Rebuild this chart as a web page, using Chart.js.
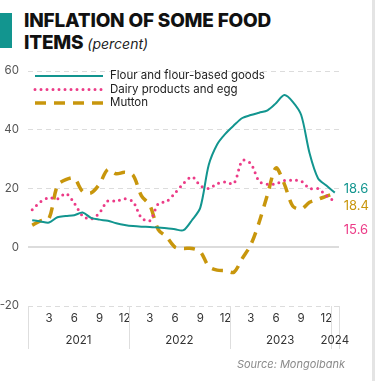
<!DOCTYPE html>
<html lang="en">
<head>
  <meta charset="UTF-8" />
  <title>Inflation of some food items</title>
  <script src="https://cdn.jsdelivr.net/npm/chart.js"></script>
  <style>
    html, body {
      margin: 0;
      padding: 0;
      background: #fff;
    }
    #wrap {
      position: relative;
      width: 375px;
      height: 381px;
      overflow: hidden;
      font-family: Inter, "Open Sans", sans-serif;
    }
    #wrap:after {
      content: '';
      position: absolute;
      right: 0; top: 0;
      width: 3px; height: 381px;
      background: #e4e4e4;
    }
    #bar {
      position: absolute;
      left: 0; top: 13px;
      width: 12px; height: 35px;
      background: #12958f;
    }
    #title {
      position: absolute;
      left: 24px; top: 10px;
      font-size: 19px;
      font-weight: 800;
      line-height: 22px;
      color: #111;
      letter-spacing: -0.2px;
    }
    #title i {
      font-size: 14px;
      font-weight: 400;
      letter-spacing: 0;
      color: #222;
    }
    #source {
      position: absolute;
      right: 30px; top: 357px;
      font-size: 11px;
      font-style: italic;
      color: #8a8a8a;
    }
    canvas { position: absolute; left: 0; top: 0; }
  </style>
</head>
<body>
<div id="wrap">
  <div id="bar"></div>
  <div id="title">INFLATION OF SOME FOOD<br>ITEMS <i>(percent)</i></div>
  <canvas id="chart" width="375" height="381"></canvas>
  <div id="source">Source: Mongolbank</div>
</div>

<script>
  // months Jan 2021 .. Jan 2024
  const months = ['2021-01','2021-02','2021-03','2021-04','2021-05','2021-06','2021-07','2021-08','2021-09','2021-10','2021-11','2021-12',
                  '2022-01','2022-02','2022-03','2022-04','2022-05','2022-06','2022-07','2022-08','2022-09','2022-10','2022-11','2022-12',
                  '2023-01','2023-02','2023-03','2023-04','2023-05','2023-06','2023-07','2023-08','2023-09','2023-10','2023-11','2023-12',
                  '2024-01'];
  const years = ['2021', '2022', '2023', '2024'];
  const yTicks = [-20, 0, 20, 40, 60];

  const seriesNames = ['Flour and flour-based goods', 'Dairy products and egg', 'Mutton'];
  const flour = [9.2, 8.8, 8.4, 10.2, 10.6, 10.9, 11.8, 10.0, 9.4, 9.0, 8.2, 7.6,
                 7.2, 7.0, 6.9, 6.7, 6.5, 6.1, 5.8, 9.2, 13.5, 28, 35, 38.7,
                 41.5, 44, 45, 45.8, 46.6, 49, 51.8, 49.5, 45, 32, 23.5, 21, 18.6];
  const dairy = [12.8, 15.5, 16.9, 16.5, 18.3, 15, 10.7, 9.6, 11.7, 15.8, 15.7, 16.5,
                 15.5, 10, 9, 14.8, 15.6, 18.5, 21.7, 24, 21, 20, 21.6, 22.2,
                 21.7, 29.5, 28.5, 22.5, 21.4, 21.6, 22.7, 22.8, 22.5, 20, 20, 17.5, 15.6];
  const mutton = [7.5, 9, 9.8, 21, 23, 23.5, 19, 18.5, 21.5, 26.5, 25, 25.5,
                  24.5, 17.5, 14.3, 6, 3.5, 0, -0.4, -0.4, -1.5, -6.5, -7.8, -8,
                  -8.5, -3.8, 0.8, 8.5, 18, 27, 21.5, 14, 13, 15.3, 16.3, 17.4, 18.4];

  const colors = ['#12958f', '#ec3b87', '#c8960c'];
  const font = 'Inter, "Open Sans", sans-serif';

  // legend, year row, separators and end labels
  const extras = {
    id: 'extras',
    afterDraw(chart) {
      const ctx = chart.ctx;
      const xs = chart.scales.x;
      const area = chart.chartArea;
      const half = (xs.getPixelForValue(1) - xs.getPixelForValue(0)) / 2;

      // year separators below the axis
      const bounds = [xs.left];
      for (let i = 12; i < months.length; i += 12) bounds.push(xs.getPixelForValue(i) - half);
      bounds.push(xs.right);
      ctx.save();
      ctx.strokeStyle = '#dedede';
      ctx.lineWidth = 1;
      bounds.forEach(b => {
        ctx.beginPath();
        ctx.moveTo(Math.round(b) + 0.5, area.bottom);
        ctx.lineTo(Math.round(b) + 0.5, area.bottom + 43);
        ctx.stroke();
      });

      // year labels
      ctx.fillStyle = '#333';
      ctx.font = '11.5px ' + font;
      ctx.textAlign = 'center';
      ctx.textBaseline = 'middle';
      years.forEach((y, k) => {
        ctx.fillText(y, (bounds[k] + bounds[k + 1]) / 2, area.bottom + 35);
      });

      // legend
      ctx.textAlign = 'left';
      ctx.fillStyle = '#222';
      chart.data.datasets.forEach((ds, k) => {
        const y = area.top + 5 + k * 13.5;
        ctx.beginPath();
        ctx.strokeStyle = ds.borderColor;
        ctx.lineWidth = ds.borderWidth;
        ctx.lineCap = ds.borderCapStyle || 'butt';
        ctx.setLineDash(ds.borderDash || []);
        ctx.moveTo(35, y);
        ctx.lineTo(103, y);
        ctx.stroke();
        ctx.fillText(ds.label, 110, y);
      });
      ctx.setLineDash([]);

      // end values (flour, dairy, mutton) nudged apart vertically
      const offs = [-4, 29, 13];
      ctx.font = '13px ' + font;
      chart.data.datasets.forEach((ds, k) => {
        const last = ds.data.length - 1;
        const px = xs.getPixelForValue(last);
        const py = chart.scales.y.getPixelForValue(ds.data[last]);
        ctx.fillStyle = ds.borderColor;
        ctx.fillText(ds.data[last].toFixed(1), px + 9, py + offs[k]);
      });
      ctx.restore();
    }
  };

  new Chart(document.getElementById('chart'), {
    type: 'line',
    data: {
      labels: months,
      datasets: [
        { label: seriesNames[0], data: flour, borderColor: colors[0], borderWidth: 2,
          tension: 0.3, pointRadius: 0 },
        { label: seriesNames[1], data: dairy, borderColor: colors[1], borderWidth: 3,
          borderDash: [0, 6], borderCapStyle: 'round', tension: 0.3, pointRadius: 0 },
        { label: seriesNames[2], data: mutton, borderColor: colors[2], borderWidth: 3.5,
          borderDash: [11, 8], tension: 0.3, pointRadius: 0 }
      ]
    },
    options: {
      responsive: false,
      animation: false,
      layout: { padding: { left: 0, right: 36, top: 71, bottom: 0 } },
      plugins: {
        legend: { display: false },
        tooltip: { enabled: false }
      },
      scales: {
        x: {
          offset: true,
          grid: { display: false, drawTicks: false },
          border: { display: false },
          ticks: {
            autoSkip: false,
            maxRotation: 0,
            padding: 6,
            color: '#333',
            font: { family: font, size: 11.5 },
            callback: (v, i) => {
              const m = Number(months[i].slice(5));
              return (m % 3 === 0) ? String(m) : '';
            }
          },
          afterFit: s => { s.height = 75; }
        },
        y: {
          min: yTicks[0],
          max: yTicks[yTicks.length - 1],
          afterBuildTicks: s => { s.ticks = yTicks.map(v => ({ value: v })); },
          grid: {
            drawTicks: false,
            color: '#dcdcdc',
            lineWidth: c => (c.tick && c.tick.value === 0) ? 2 : 1
          },
          border: {
            display: false,
            dash: c => (c.tick && c.tick.value === 0) ? [] : [5, 4]
          },
          ticks: {
            padding: 9,
            color: '#555',
            font: { family: font, size: 11.5 }
          },
          afterFit: s => { s.width = 28; }
        }
      }
    },
    plugins: [extras]
  });
</script>
</body>
</html>
